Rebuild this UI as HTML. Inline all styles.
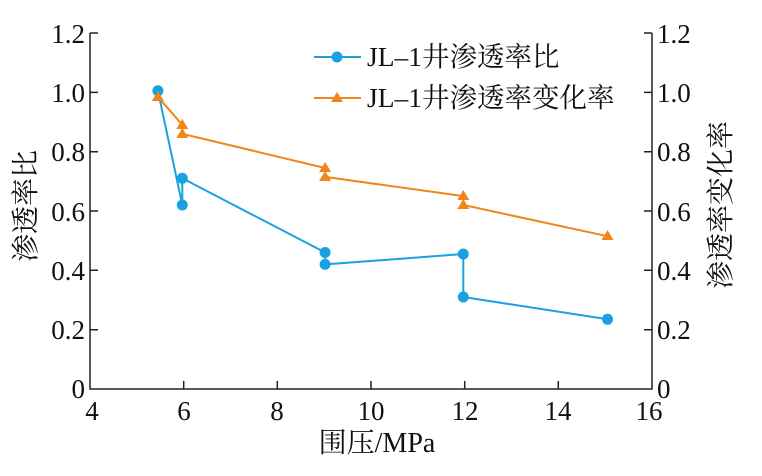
<!DOCTYPE html>
<html><head><meta charset="utf-8"><style>
body{margin:0;background:#fff;}
svg text{font-family:"Liberation Serif","Noto Serif CJK SC","Noto Sans CJK SC",serif;fill:#111;}
</style></head><body>
<svg width="762" height="471" viewBox="0 0 762 471" xmlns="http://www.w3.org/2000/svg">
<g stroke="#222" stroke-width="1.5" fill="none">
<path d="M90 33V389H652V33"/>
<path d="M90 33h8M90 92.4h8M90 151.7h8M90 211h8M90 270.3h8M90 329.7h8"/>
<path d="M652 33h-8M652 92.4h-8M652 151.7h-8M652 211h-8M652 270.3h-8M652 329.7h-8"/>
<path d="M183.7 389v-8M277.3 389v-8M371 389v-8M464.7 389v-8M558.3 389v-8"/>
</g>
<g font-size="27" text-anchor="end">
<text x="85" y="43">1.2</text><text x="85" y="102">1.0</text><text x="85" y="161">0.8</text><text x="85" y="221">0.6</text><text x="85" y="280">0.4</text><text x="85" y="339">0.2</text><text x="85" y="398">0</text>
</g>
<g font-size="27" text-anchor="start">
<text x="657" y="43">1.2</text><text x="657" y="102">1.0</text><text x="657" y="161">0.8</text><text x="657" y="221">0.6</text><text x="657" y="280">0.4</text><text x="657" y="339">0.2</text><text x="657" y="398">0</text>
</g>
<g font-size="27" text-anchor="middle">
<text x="92" y="420">4</text><text x="184" y="420">6</text><text x="277" y="420">8</text><text x="371" y="420">10</text><text x="465" y="420">12</text><text x="558" y="420">14</text><text x="649" y="420">16</text>
<text x="377" y="452" font-size="28">围压/MPa</text>
<text transform="translate(35 206) rotate(-90)" font-size="28">渗透率比</text>
<text transform="translate(730 205) rotate(-90)" font-size="28">渗透率变化率</text>
</g>
<polyline fill="none" stroke="#1ba1e2" stroke-width="2" points="157.9,90.8 182.3,205 182.3,178.3 325.1,252.5 325.1,264.4 463.3,254 463.3,297 607.5,319.3"/>
<g fill="#1ba1e2">
<circle cx="157.9" cy="90.8" r="5.5"/><circle cx="182.3" cy="178.3" r="5.5"/><circle cx="182.3" cy="205" r="5.5"/><circle cx="325.1" cy="252.5" r="5.5"/><circle cx="325.1" cy="264.4" r="5.5"/><circle cx="463.3" cy="254" r="5.5"/><circle cx="463.3" cy="297" r="5.5"/><circle cx="607.5" cy="319.3" r="5.5"/>
</g>
<polyline fill="none" stroke="#f08519" stroke-width="2" points="157.9,96.8 182.3,124.9 182.3,133.8 325.1,168 325.1,176.9 463.3,196.1 463.3,205 607.5,236.2"/>
<g fill="#f08519">
<path d="M157.9 91l6 10h-12z"/><path d="M182.3 119l6 10h-12z"/><path d="M182.3 128l6 10h-12z"/><path d="M325.1 162l6 10h-12z"/><path d="M325.1 171l6 10h-12z"/><path d="M463.3 190l6 10h-12z"/><path d="M463.3 199l6 10h-12z"/><path d="M607.5 230l6 10h-12z"/>
</g>
<line x1="314" y1="57" x2="361" y2="57" stroke="#1ba1e2" stroke-width="2"/>
<circle cx="337" cy="57" r="5.5" fill="#1ba1e2"/>
<line x1="314" y1="98" x2="361" y2="98" stroke="#f08519" stroke-width="2"/>
<path d="M337 92l6 10h-12z" fill="#f08519"/>
<text x="367" y="66" font-size="27.5">JL–1井渗透率比</text>
<text x="367" y="107" font-size="27.5">JL–1井渗透率变化率</text>
</svg>
</body></html>
